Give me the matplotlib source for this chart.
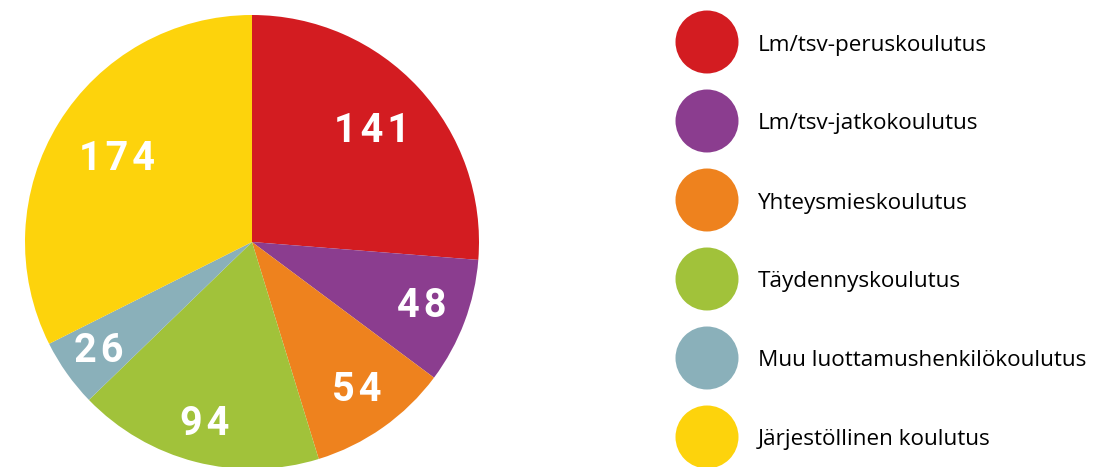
import numpy as np
import matplotlib.pyplot as plt
from matplotlib.patches import Circle

# Koulutukset (kpl)
luokat = ['Lm/tsv-peruskoulutus', 'Lm/tsv-jatkokoulutus', 'Yhteysmieskoulutus',
          'Täydennyskoulutus', 'Muu luottamushenkilökoulutus', 'Järjestöllinen koulutus']
arvot = [141, 48, 54, 94, 26, 174]
varit = ['#D31C21', '#8B3D8F', '#EE821E', '#A1C23A', '#8AB0BA', '#FDD30C']

# label distance from centre (fraction of radius), tuned by eye
label_dist = [0.72, 0.80, 0.80, 0.83, 0.83, 0.70]

W, H = 1099, 467
fig = plt.figure(figsize=(W / 100, H / 100), dpi=100)
ax = fig.add_axes([0, 0, 1, 1])

cx, cy, r = 252, H - 242, 227
wedges, _ = ax.pie(arvot, colors=varit, startangle=90, counterclock=False,
                   center=(cx, cy), radius=r, frame=True,
                   wedgeprops=dict(linewidth=0))

for w, v, d in zip(wedges, arvot, label_dist):
    mid = np.deg2rad((w.theta1 + w.theta2) / 2)
    # wide tracking like the original: put a hair space between digits
    txt = '\u200a'.join(str(v))
    ax.text(cx + d * r * np.cos(mid), cy + d * r * np.sin(mid), txt,
            ha='center', va='center', color='white', fontsize=28.5,
            fontweight='bold', family=['Roboto', 'DejaVu Sans'])

# legend drawn by hand
for i, (lab, c) in enumerate(zip(luokat, varit)):
    y = H - (42 + i * 79)
    ax.add_patch(Circle((707, y), 31.5, color=c, linewidth=0))
    ax.text(758, y - 3, lab, ha='left', va='center', fontsize=16.2,
            family='Open Sans', color='black')

ax.set_xlim(0, W)
ax.set_ylim(0, H)
ax.set_aspect('equal')
ax.axis('off')

plt.savefig('out.png', dpi=100, facecolor='white')
